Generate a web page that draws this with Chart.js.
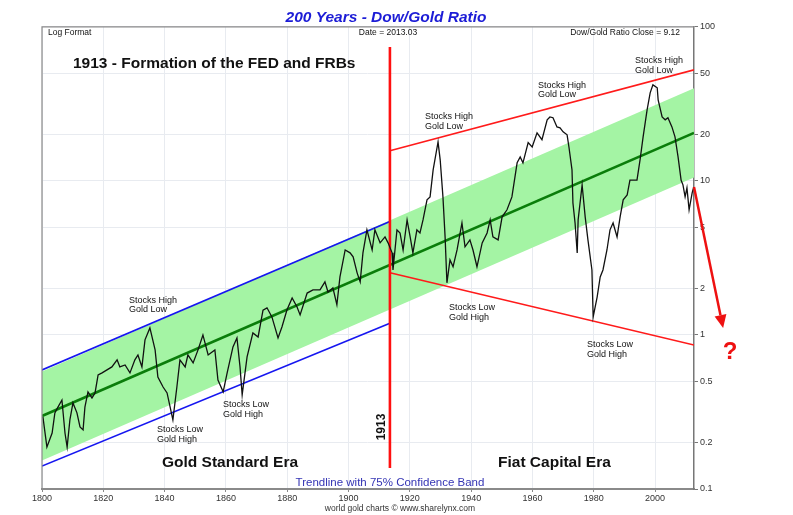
<!DOCTYPE html>
<html>
<head>
<meta charset="utf-8">
<script src="https://cdn.jsdelivr.net/npm/chart.js@4.4.1/dist/chart.umd.min.js"></script>
<style>
  html, body { margin: 0; padding: 0; background: #fff; }
</style>
</head>
<body>
<canvas id="ratioChart" width="793" height="515"></canvas>
<script>
// Dow/Gold ratio
const years = [
  1800.3, 1801.6, 1803.3, 1804.2, 1805.2, 1806.5, 1807.5, 1808.2, 1809.1, 1810.1,
  1811.4, 1812.4, 1813.4, 1814.0, 1815.0, 1816.3, 1817.3, 1818.3, 1819.6, 1821.2,
  1822.8, 1824.5, 1825.4, 1827.1, 1828.7, 1830.3, 1831.3, 1832.6, 1833.6, 1835.2,
  1836.9, 1837.8, 1839.5, 1840.8, 1841.8, 1842.7, 1844.0, 1845.0, 1846.7, 1847.6,
  1849.3, 1850.9, 1852.5, 1854.2, 1856.4, 1857.4, 1859.1, 1860.4, 1862.3, 1863.6,
  1864.6, 1865.3, 1866.9, 1868.8, 1870.5, 1872.1, 1873.4, 1875.0, 1877.0, 1878.3,
  1879.9, 1881.6, 1883.2, 1884.2, 1886.5, 1888.4, 1890.7, 1892.3, 1893.3, 1894.9,
  1896.2, 1897.2, 1898.9, 1900.5, 1901.5, 1902.8, 1903.8, 1904.7, 1906.0, 1907.7,
  1908.6, 1910.3, 1911.9, 1912.9, 1914.2, 1914.5,
  1915.8, 1916.8, 1917.8, 1919.1, 1920.1, 1921.0, 1922.3, 1923.3, 1924.3, 1925.6,
  1926.6, 1927.6, 1929.2, 1929.9, 1930.8, 1931.5, 1932.1, 1933.1, 1934.1, 1935.4,
  1937.0, 1938.0, 1939.6, 1940.6, 1941.9, 1943.6, 1945.2, 1946.2, 1947.1, 1948.8,
  1950.1, 1951.7, 1953.3, 1955.0, 1956.0, 1956.9, 1958.6, 1959.9, 1961.5, 1963.1,
  1964.8, 1965.7, 1966.7, 1968.0, 1969.0, 1970.0, 1971.3, 1971.9, 1972.9, 1973.2,
  1973.9, 1974.6, 1974.9, 1976.2, 1977.2, 1978.1, 1979.4, 1979.8, 1981.1, 1982.1,
  1983.0, 1984.3, 1985.3, 1986.3, 1987.6, 1988.6, 1989.6, 1990.9, 1991.8, 1994.1,
  1995.1, 1996.1, 1997.4, 1998.4, 1999.3, 2000.7, 2001.0, 2002.3, 2003.3, 2004.2,
  2005.5, 2006.5, 2007.5, 2008.5, 2009.1, 2009.8, 2010.4, 2011.1, 2012.1, 2012.6
];
const ratio = [
  0.294, 0.187, 0.231, 0.312, 0.340, 0.378, 0.231, 0.187, 0.281, 0.362,
  0.312, 0.253, 0.242, 0.340, 0.427, 0.390, 0.420, 0.550, 0.567, 0.593,
  0.620, 0.689, 0.620, 0.638, 0.567, 0.689, 0.741, 0.620, 0.929, 1.11,
  0.80, 0.533, 0.459, 0.420, 0.340, 0.281, 0.459, 0.689, 0.620, 0.741,
  0.658, 0.80, 1.0, 0.741, 0.80, 0.510, 0.427, 0.567, 0.836, 0.957,
  0.620, 0.408, 0.720, 1.03, 0.97, 1.45, 1.50, 1.31, 0.957, 1.13,
  1.45, 1.74, 1.52, 1.35, 1.87, 1.96, 1.96, 2.21, 1.90, 2.02,
  1.57, 2.38, 3.56, 3.41, 3.21, 2.53, 2.21, 3.41, 4.81, 3.56,
  4.81, 3.96, 4.33, 3.96, 3.41, 2.64,
  4.81, 4.59, 3.56, 5.58, 4.33, 3.41, 4.81, 4.59, 5.58, 7.53,
  7.87, 11.8, 17.9, 13.7, 7.87, 4.33, 2.18, 3.07, 2.77, 3.56,
  5.33, 3.73, 4.14, 3.56, 2.77, 3.96, 4.59, 5.58, 4.33, 4.14,
  5.84, 6.49, 7.87, 13.1, 14.3, 13.1, 17.7, 16.6, 20.5, 18.5,
  24.9, 26.0, 25.7, 22.4, 22.1, 20.8, 19.9, 16.6, 11.8, 7.2,
  5.33, 3.41, 5.58, 9.42, 5.84, 4.14, 2.64, 1.31, 1.76, 2.38,
  2.64, 3.56, 4.81, 5.33, 4.33, 5.84, 7.53, 8.11, 10.1, 10.1,
  13.7, 19.3, 28.9, 37.3, 42.0, 40.2, 33.6, 26.0, 24.9, 25.7,
  22.4, 19.3, 14.3, 10.1, 9.42, 7.87, 9.0, 6.49, 8.36, 9.12
];

const xTicks = [1800, 1820, 1840, 1860, 1880, 1900, 1920, 1940, 1960, 1980, 2000];
const yTicks = [0.1, 0.2, 0.5, 1, 2, 5, 10, 20, 50, 100];

// trendline and its 75% band
const trendYears = [1800, 2012.7];
const trendValues = [0.298, 20.5];
const bandUpper = [0.58, 40];
const bandLower = [0.153, 10.5];

// gold standard channel (blue) and fiat channel (red)
const goldYears = [1800, 1913.5];
const goldUpper = [0.593, 5.45];
const goldLower = [0.141, 1.19];
const fiatYears = [1913.5, 2012.7];
const fiatUpper = [15.7, 52.6];
const fiatLower = [2.53, 0.86];

const fedYears = [1913.5, 1913.5];
const fedValues = [74, 0.137];

const arrowYears = [2012.7, 2022.2];
const arrowValues = [9.12, 1.11];

const FONT = "'Liberation Sans', Arial, Helvetica, sans-serif";
Chart.defaults.font.family = FONT;

function pts(xs, ys) {
  return xs.map((x, i) => ({ x: x, y: ys[i] }));
}

function line(data, color, width, order, extra) {
  return Object.assign({
    data: data,
    borderColor: color,
    borderWidth: width,
    pointRadius: 0,
    tension: 0,
    fill: false,
    order: order
  }, extra || {});
}

const labels = [
  { t: 'Log Format', x: 48, y: 33, f: '8.5px', a: 'left' },
  { t: 'Date = 2013.03', x: 388, y: 33, f: '8.5px', a: 'center' },
  { t: 'Dow/Gold Ratio Close = 9.12', x: 680, y: 33, f: '8.5px', a: 'right' },
  { t: '1913 - Formation of the FED and FRBs', x: 73, y: 64, f: 'bold 15.5px', a: 'left' },
  { t: 'Gold Standard Era', x: 162, y: 463, f: 'bold 15.5px', a: 'left' },
  { t: 'Fiat Capital Era', x: 498, y: 463, f: 'bold 15.5px', a: 'left' },
  { t: 'Trendline with 75% Confidence Band', x: 390, y: 483, f: '11.5px', a: 'center', c: '#3434b4' },
  { t: 'world gold charts \u00a9 www.sharelynx.com', x: 400, y: 509, f: '8.5px', a: 'center', c: '#333' }
];

const notes = [
  { hi: true, x: 129, y: 300.5 },
  { hi: false, x: 157, y: 430 },
  { hi: false, x: 223, y: 405 },
  { hi: true, x: 425, y: 117 },
  { hi: true, x: 538, y: 85.5 },
  { hi: true, x: 635, y: 61 },
  { hi: false, x: 449, y: 308 },
  { hi: false, x: 587, y: 345 }
];

const annotate = {
  id: 'annotate',
  afterDraw(chart) {
    const ctx = chart.ctx;
    const a = chart.chartArea;
    const xs = chart.scales.x, ys = chart.scales.y;
    ctx.save();

    // frame top & left
    ctx.strokeStyle = '#8a8a8a';
    ctx.lineWidth = 1.2;
    ctx.beginPath();
    ctx.moveTo(a.left, a.bottom);
    ctx.lineTo(a.left, a.top);
    ctx.lineTo(a.right, a.top);
    ctx.stroke();

    // texts
    ctx.textBaseline = 'middle';
    labels.forEach(l => {
      ctx.font = l.f + ' ' + FONT;
      ctx.textAlign = l.a;
      ctx.fillStyle = l.c || '#111';
      ctx.fillText(l.t, l.x, l.y);
    });
    ctx.font = '9px ' + FONT;
    ctx.textAlign = 'left';
    ctx.fillStyle = '#111';
    notes.forEach(n => {
      ctx.fillText(n.hi ? 'Stocks High' : 'Stocks Low', n.x, n.y);
      ctx.fillText(n.hi ? 'Gold Low' : 'Gold High', n.x, n.y + 9.5);
    });

    // rotated 1913 label
    ctx.save();
    ctx.translate(382, 427);
    ctx.rotate(-Math.PI / 2);
    ctx.font = 'bold 12px ' + FONT;
    ctx.textAlign = 'center';
    ctx.fillText('1913', 0, 0);
    ctx.restore();

    // arrow out of the last close
    const x0 = xs.getPixelForValue(arrowYears[0]), y0 = ys.getPixelForValue(arrowValues[0]);
    const x1 = xs.getPixelForValue(arrowYears[1]), y1 = ys.getPixelForValue(arrowValues[1]);
    const ang = Math.atan2(y1 - y0, x1 - x0);
    const hl = 13, hw = 6;
    const bx = x1 - hl * Math.cos(ang), by = y1 - hl * Math.sin(ang);
    ctx.strokeStyle = '#ee1111';
    ctx.fillStyle = '#ee1111';
    ctx.lineWidth = 2.5;
    ctx.beginPath();
    ctx.moveTo(x0, y0);
    ctx.lineTo(bx, by);
    ctx.stroke();
    ctx.beginPath();
    ctx.moveTo(x1, y1);
    ctx.lineTo(bx + hw * Math.sin(ang), by - hw * Math.cos(ang));
    ctx.lineTo(bx - hw * Math.sin(ang), by + hw * Math.cos(ang));
    ctx.closePath();
    ctx.fill();

    ctx.font = 'bold 24px ' + FONT;
    ctx.textAlign = 'center';
    ctx.fillText('?', 730, 352);
    ctx.restore();
  }
};

const gridColor = '#e8ebf0';

new Chart(document.getElementById('ratioChart'), {
  type: 'line',
  data: {
    datasets: [
      line(pts(years, ratio), '#111', 1.3, 0),
      line(pts(fedYears, fedValues), '#ff1010', 2.6, 1),
      line(pts(fiatYears, fiatUpper), '#ff1a1a', 1.6, 1),
      line(pts(fiatYears, fiatLower), '#ff1a1a', 1.6, 1),
      line(pts(goldYears, goldUpper), '#1616f0', 1.6, 2),
      line(pts(goldYears, goldLower), '#1616f0', 1.6, 2),
      line(pts(trendYears, trendValues), '#0a7d0a', 2.6, 3),
      line(pts(trendYears, bandUpper), 'rgba(0,0,0,0)', 0, 5, { fill: '+1', backgroundColor: '#a4f4a4' }),
      line(pts(trendYears, bandLower), 'rgba(0,0,0,0)', 0, 6)
    ]
  },
  options: {
    responsive: false,
    animation: false,
    devicePixelRatio: 1,
    layout: { padding: { left: 42, right: 63, top: 0, bottom: 0 } },
    plugins: {
      legend: { display: false },
      tooltip: { enabled: false },
      title: {
        display: true,
        text: '200 Years - Dow/Gold Ratio',
        color: '#1c1cd6',
        font: { size: 15.5, weight: 'bold', style: 'italic', lineHeight: 1.15 },
        padding: { top: 9, bottom: 0 }
      }
    },
    scales: {
      x: {
        type: 'linear',
        min: 1800,
        max: 2012.7,
        afterBuildTicks: s => { s.ticks = xTicks.map(v => ({ value: v })); },
        afterFit: s => { s.height = 26; },
        grid: { color: gridColor, tickColor: '#888', tickLength: 3 },
        border: { color: '#8a8a8a', width: 2 },
        ticks: { color: '#333', font: { size: 9 }, padding: 1, maxRotation: 0, autoSkip: false, callback: v => String(v) }
      },
      y: {
        type: 'logarithmic',
        position: 'right',
        min: 0.1,
        max: 100,
        afterBuildTicks: s => { s.ticks = yTicks.map(v => ({ value: v })); },
        afterFit: s => { s.width = 36; },
        grid: { color: gridColor, tickColor: '#777', tickLength: 4 },
        border: { color: '#777', width: 1.5 },
        ticks: { color: '#333', font: { size: 9 }, padding: 2, autoSkip: false, callback: v => String(v) }
      }
    }
  },
  plugins: [annotate]
});
</script>
</body>
</html>
